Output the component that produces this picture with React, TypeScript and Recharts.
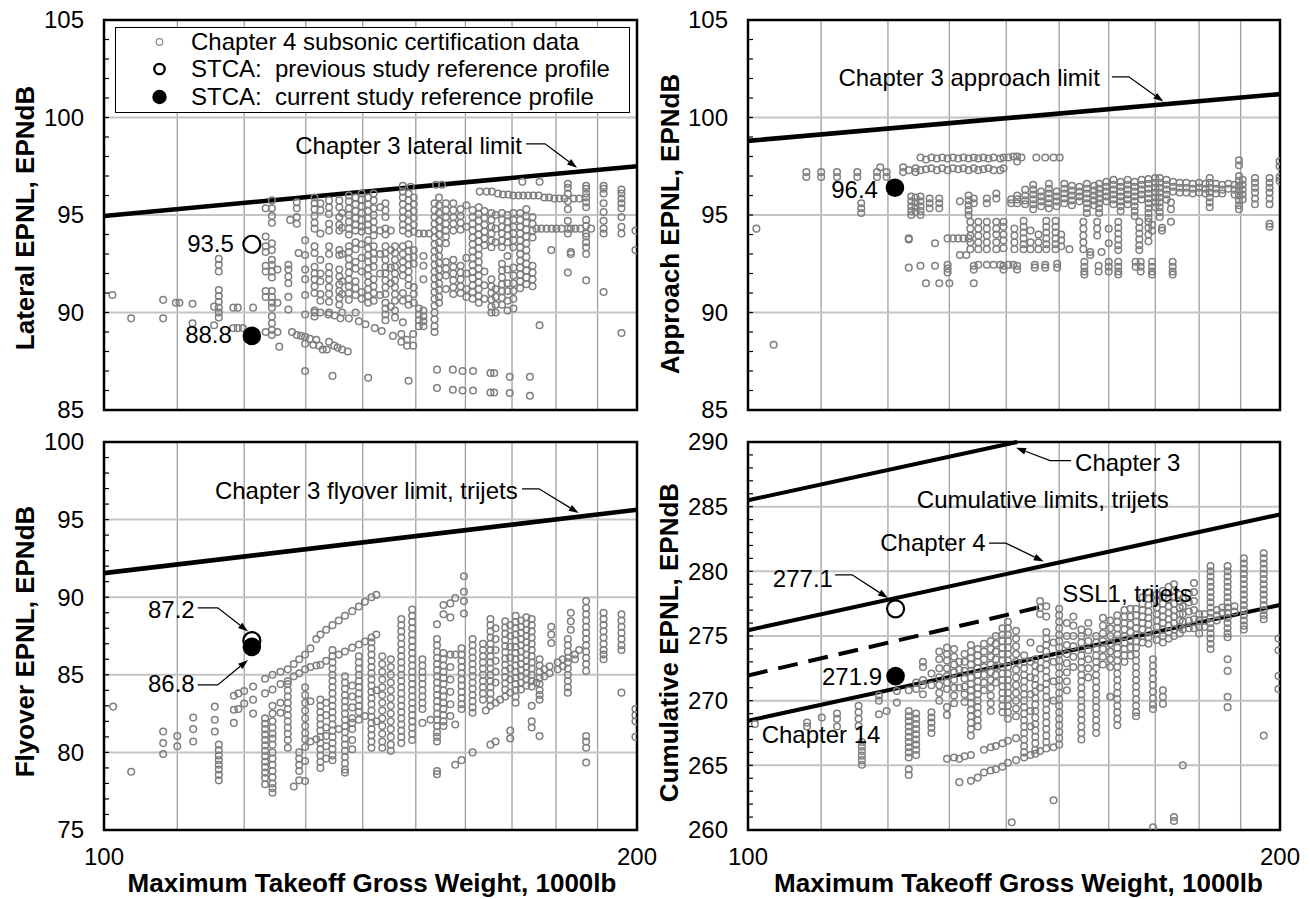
import React from 'react';
import { ScatterChart, Scatter, XAxis, YAxis, CartesianGrid, ReferenceLine, ReferenceArea, Legend } from 'recharts';

type Col = [number, number[]];
type Pt = { x: number; y: number };
type Note = { x: number; y: number; text: string };
type Lay = { tx: number; ty: number; anchor: 'start' | 'end'; leader?: [number, number, number, number] };

const FONT = '"Liberation Sans", Arial, Helvetica, sans-serif';

// ---------- axes ----------
const xTicks = [100, 110, 120, 130, 140, 150, 160, 170, 180, 190, 200];
const xLabeled = [100, 200];
const latMajor = [85, 90, 95, 100, 105];
const latMinor = [85, 86, 87, 88, 89, 90, 91, 92, 93, 94, 95, 96, 97, 98, 99, 100, 101, 102, 103, 104, 105];
const flyMajor = [75, 80, 85, 90, 95, 100];
const flyMinor = [75, 76, 77, 78, 79, 80, 81, 82, 83, 84, 85, 86, 87, 88, 89, 90, 91, 92, 93, 94, 95, 96, 97, 98, 99, 100];
const cumMajor = [260, 265, 270, 275, 280, 285, 290];
const cumMinor = [260, 261, 262, 263, 264, 265, 266, 267, 268, 269, 270, 271, 272, 273, 274, 275, 276, 277, 278, 279, 280, 281, 282, 283, 284, 285, 286, 287, 288, 289, 290];

// ---------- series names ----------
const NAME_DATA = 'Chapter 4 subsonic certification data';
const NAME_PREV = 'STCA:  previous study reference profile';
const NAME_CURR = 'STCA:  current study reference profile';
const legendOrder = [NAME_DATA, NAME_PREV, NAME_CURR];

// ---------- limits ----------
const latLimit: Pt[] = [{ x: 100, y: 94.95 }, { x: 200, y: 97.5 }];
const appLimit: Pt[] = [{ x: 100, y: 98.8 }, { x: 200, y: 101.2 }];
const flyLimit: Pt[] = [{ x: 100, y: 91.55 }, { x: 200, y: 95.63 }];
const cumCh3: Pt[] = [{ x: 100, y: 285.5 }, { x: 142, y: 290 }];
const cumCh4: Pt[] = [{ x: 100, y: 275.45 }, { x: 200, y: 284.4 }];
const cumCh14: Pt[] = [{ x: 100, y: 268.45 }, { x: 200, y: 277.4 }];
const cumSsl1: Pt[] = [{ x: 100, y: 271.95 }, { x: 147, y: 277.3 }];

// ---------- STCA reference profiles ----------
const latPrev: Pt[] = [{ x: 121.2, y: 93.5 }];
const latCurr: Pt[] = [{ x: 121.2, y: 88.8 }];
const appCurr: Pt[] = [{ x: 121.1, y: 96.4 }];
const flyPrev: Pt[] = [{ x: 121.2, y: 87.2 }];
const flyCurr: Pt[] = [{ x: 121.2, y: 86.8 }];
const cumPrev: Pt[] = [{ x: 121.2, y: 277.1 }];
const cumCurr: Pt[] = [{ x: 121.2, y: 271.9 }];

// ---------- certification data (x: MTOW 1000lb, ys: EPNL) ----------
const latCols: Col[] = [
  [101.1, [90.9]], [103.6, [89.7]], [108.0, [90.65, 89.7]], [109.8, [90.5]], [110.3, [90.5]],
  [112.2, [90.45, 89.45]], [115.4, [90.3, 89.35]],
  [116.1, [92.75, 92.45, 92.1, 91.15, 90.85, 90.55, 90.25, 90.0, 89.75]],
  [118.3, [90.25, 89.2]], [119.0, [90.25, 89.2]], [119.8, [89.2]], [121.4, [90.25]],
  [123.4, [95.35, 93.9, 93.4, 93.1, 92.4, 92.1, 91.1, 90.8, 89.0]],
  [124.4, [95.75, 95.35, 94.95, 94.6, 93.55, 93.2, 92.7, 92.45, 92.1, 91.8, 91.1, 90.8, 90.5, 90.25, 89.8, 89.45, 89.1, 88.85]],
  [125.3, [92.2, 90.5, 89.0]], [125.6, [88.25]],
  [127.1, [92.45, 92.2, 91.85, 91.5, 90.8, 90.15]], [127.4, [94.75]], [127.7, [89.0]],
  [128.5, [95.65, 95.35, 94.9, 94.55, 88.85]], [128.8, [93.05]], [129.2, [88.8]],
  [129.9, [93.7, 92.95, 92.2, 91.7, 90.9, 89.9, 88.75, 88.4, 87.0]],
  [130.7, [88.65]], [131.3, [88.35]],
  [131.5, [95.9, 95.6, 95.3, 94.95, 94.6, 94.3, 93.4, 93.05, 92.35, 92.0, 91.7, 91.35, 91.0, 90.1, 89.8, 90.0]],
  [131.8, [88.6]], [132.3, [88.3]], [132.9, [88.1]], [133.6, [88.1]],
  [132.5, [95.6, 95.25, 94.05, 92.7, 92.0, 91.6, 90.95, 90.6, 90.0]],
  [133.9, [89.9]], [134.0, [95.75, 95.4, 95.05, 94.55, 94.2, 93.4, 93.0, 92.35, 92.0, 91.7, 91.3, 90.95, 90.55, 90.0, 88.5]],
  [134.6, [86.75]], [134.9, [88.3]], [135.0, [89.85]], [135.5, [88.2]],
  [135.8, [95.75, 95.4, 94.9, 94.5, 94.2, 93.2, 92.95, 92.2, 91.85, 91.45, 91.1, 90.75, 90.4]],
  [136.0, [89.7]], [136.3, [95.1, 94.35, 93.0, 91.6, 90.95, 90.0, 88.1]], [137.3, [88.0]],
  [137.5, [96.0, 95.7, 95.35, 95.0, 94.65, 94.3, 94.0, 93.4, 93.1, 92.75, 92.4, 92.05, 91.7, 91.35, 91.0, 90.65, 89.7]],
  [138.7, [95.9, 95.55, 95.2, 94.85, 94.5, 94.2, 93.6, 93.25, 92.6, 92.25, 91.6, 91.25, 90.9, 90.0]],
  [139.3, [89.55]],
  [139.8, [96.1, 95.8, 95.45, 95.1, 94.75, 94.4, 94.15, 93.5, 92.8, 92.1, 91.05, 90.7]],
  [140.5, [89.4]],
  [141.0, [95.9, 95.55, 95.2, 94.85, 94.5, 94.2, 93.7, 93.3, 92.95, 92.6, 92.25, 91.9, 91.55, 91.2, 90.85, 90.5, 86.65]],
  [142.0, [96.1, 95.75, 95.35, 95.0, 94.65, 94.3, 93.95, 93.4, 93.05, 92.7, 92.35, 91.7, 91.35, 91.0, 90.6]],
  [142.2, [89.2]], [143.2, [95.4, 94.2, 93.0, 92.0, 90.9]], [143.5, [89.05]],
  [144.2, [95.6, 95.25, 94.9, 94.3, 94.0, 93.4, 93.05, 92.7, 92.35, 92.0, 91.65, 91.3, 90.95, 90.5, 90.2, 89.9, 89.6]],
  [145.2, [94.2, 93.2, 92.3, 91.5, 90.3]], [145.6, [88.8]],
  [146.0, [93.4, 93.05, 92.7, 92.35, 92.0, 91.65, 91.3, 90.95, 90.6, 90.1, 89.75]],
  [147.2, [88.5, 88.9]],
  [147.5, [96.5, 96.2, 95.9, 95.55, 95.2, 94.85, 94.5, 94.2, 93.4, 93.0, 92.6, 92.25, 91.9, 91.0, 90.6, 89.5]],
  [148.3, [88.6, 88.3]], [148.6, [86.5]],
  [148.6, [96.1, 95.75, 95.4, 95.05, 94.7, 94.35, 94.05, 93.5, 93.15, 92.8, 92.45, 92.1, 91.75, 91.4, 90.7, 90.4]],
  [149.0, [96.45]], [149.5, [88.3, 88.9]],
  [149.6, [95.9, 95.55, 95.2, 94.85, 94.5, 94.15, 93.2, 92.85, 92.5, 91.3, 90.95, 90.5]],
  [150.6, [94.05, 90.2, 89.9, 89.6, 89.3]], [151.6, [94.05]], [152.6, [94.05]],
  [151.5, [92.9, 92.4, 91.7, 90.1, 89.8, 89.55, 89.3]],
  [153.7, [95.6, 95.25, 94.9, 94.55, 94.2, 93.85, 93.5, 93.15, 92.8, 92.45, 92.1, 91.75, 91.4, 91.05, 90.7, 90.35, 90.0, 89.65, 89.3, 89.0]],
  [154.0, [96.55]], [154.2, [87.07, 86.13]], [155.2, [96.55]],
  [154.6, [95.9, 95.5, 95.1, 94.7, 94.35, 94.0, 93.6, 93.25, 92.9, 92.55, 92.2, 91.85, 91.5, 91.15, 90.8, 90.5]],
  [156.0, [95.6, 95.25, 94.9, 94.55, 94.2, 93.9, 93.55, 92.6, 92.25, 91.9, 91.2]],
  [157.4, [87.07, 86.04]],
  [157.5, [95.6, 95.25, 94.9, 94.55, 94.2, 92.7, 92.35, 92.0, 91.65, 91.3, 90.95]],
  [159.0, [95.3, 94.95, 94.6, 94.25, 92.4, 92.05, 91.7, 91.35, 91.0]],
  [159.4, [87.0, 86.0]],
  [160.2, [95.5, 94.4, 92.8, 92.0, 91.2, 90.8]],
  [161.5, [95.25, 94.9, 94.55, 94.2, 93.85, 93.5, 93.15, 92.8, 92.45, 92.1, 91.75, 91.4, 91.05, 90.7]],
  [161.6, [87.0, 86.0]],
  [162.8, [95.4, 95.05, 94.7, 94.35, 94.0, 93.65, 93.3, 92.95, 92.6, 92.25, 91.9, 91.55, 91.2, 90.85, 90.5]],
  [163.0, [96.2]],
  [164.0, [95.2, 94.85, 94.5, 94.15, 93.8, 93.45, 92.1, 91.4, 90.7]],
  [164.5, [96.2]], [165.3, [86.9, 85.9]], [165.6, [96.2]],
  [165.5, [95.1, 94.75, 94.4, 94.05, 93.7, 93.35, 91.7, 91.35, 91.0, 90.65, 90.3, 90.0]],
  [166.1, [86.9, 85.9]],
  [166.4, [95.0, 94.3, 93.6, 91.2, 90.8, 90.4, 90.0]],
  [166.9, [96.1]], [168.0, [96.05]],
  [167.8, [95.1, 94.75, 94.4, 94.05, 93.7, 93.35, 92.5, 92.15, 91.8, 91.45, 91.1, 90.75, 90.4]],
  [169.0, [95.0, 94.65, 94.3, 93.95, 93.6, 92.9, 92.2, 91.5, 91.1, 90.6, 90.1]],
  [169.2, [96.05]], [169.5, [86.7, 85.87]],
  [170.3, [96.0, 95.1, 94.75, 94.4, 94.05, 93.7, 93.35, 92.3, 91.9, 91.5, 91.1, 90.7, 90.2]],
  [171.4, [96.0]],
  [171.8, [95.1, 94.75, 94.4, 94.05, 93.7, 93.35, 93.0, 92.65, 92.3, 91.95, 91.6, 91.25]],
  [172.3, [96.7]], [172.5, [96.0]],
  [173.2, [95.3, 94.95, 94.6, 94.25, 93.9, 93.55, 93.2, 92.85, 92.5, 92.15, 91.8, 91.45]],
  [173.6, [96.0]], [174.0, [86.7, 85.73]], [174.8, [96.0]],
  [174.6, [94.9, 94.55, 94.2, 93.85, 92.4, 92.05, 91.7, 91.35]],
  [175.5, [94.3]], [176.0, [96.0]], [176.2, [96.7, 89.35]], [176.6, [94.3]],
  [177.3, [95.9]], [177.8, [94.3]], [178.4, [95.9]], [178.9, [93.2]], [179.0, [94.3]],
  [179.6, [95.85]], [180.1, [94.3]], [180.8, [95.85]], [181.3, [94.3]], [182.0, [95.85]],
  [182.8, [96.6, 96.4, 96.1, 95.7, 95.3, 94.7, 94.3, 94.05, 92.05]],
  [183.5, [93.1, 93.0, 94.3]], [184.2, [95.85]], [184.6, [94.3]], [185.5, [95.85]], [185.8, [94.3]],
  [187.2, [96.5, 96.35, 96.1, 95.9, 95.65, 95.4, 94.75, 94.45, 94.05, 93.9, 93.6, 93.35, 93.0, 91.65]],
  [188.4, [94.3]],
  [191.5, [96.5, 96.35, 96.1, 95.6, 95.15, 94.7, 94.3, 94.05, 91.05]],
  [196.0, [96.3, 96.1, 95.85, 95.6, 95.35, 94.9, 94.4, 94.05, 88.95]],
  [199.6, [94.2, 93.2]],
];

const appCols: Col[] = [
  [101.1, [94.3]], [103.4, [88.35]],
  [107.9, [97.2, 96.95]], [110.0, [97.2, 96.95]], [112.3, [97.2, 96.95]], [115.3, [97.2, 96.95]],
  [115.9, [95.6, 95.35, 95.1]], [118.3, [97.2, 96.95]], [118.8, [97.45]], [119.8, [97.2, 96.95]],
  [122.4, [97.45, 97.2]],
  [123.3, [97.3, 93.8, 93.75, 92.3]],
  [123.7, [95.95, 95.7, 95.45, 95.2, 95.0]],
  [124.4, [97.4, 97.2, 95.9, 95.65, 95.4, 95.15]],
  [125.2, [97.95, 97.3, 95.95, 95.7, 95.45, 95.2, 95.0, 92.4]],
  [126.1, [97.85, 97.35, 91.5]], [126.7, [95.85, 95.6, 95.35]], [127.0, [97.95, 97.4]],
  [127.6, [93.55, 92.4]], [127.9, [97.9, 97.3]], [128.3, [95.85, 95.6, 95.35, 91.5]],
  [128.8, [97.95, 97.4]], [129.7, [97.9, 97.3, 93.8, 92.45, 92.25, 92.05]], [130.0, [91.5]],
  [130.6, [97.95, 97.4, 93.8]], [131.5, [97.9, 97.35, 93.8]], [131.8, [95.7, 92.95]],
  [132.4, [97.95, 97.4, 93.8]], [132.9, [92.95]],
  [133.3, [97.9, 97.3, 96.0, 95.75, 95.5, 95.25, 95.0, 93.8]],
  [133.6, [94.65, 94.3, 93.95, 93.6, 93.25]],
  [134.2, [97.95, 97.4, 95.85, 95.6, 92.4, 92.2, 91.5]],
  [135.0, [97.9, 97.3, 94.65, 94.3, 93.95, 93.6, 93.25, 92.45]],
  [135.9, [97.95, 97.35]],
  [136.5, [95.85, 95.6, 94.65, 94.3, 93.95, 93.6, 93.25, 92.45]],
  [136.8, [97.9, 97.4]], [137.7, [97.95, 97.3, 92.45]],
  [138.2, [96.1, 95.85, 94.65, 94.3, 94.0, 93.6, 93.25]],
  [138.9, [97.9, 97.3, 92.45]],
  [139.5, [97.95, 97.4, 94.65, 94.4, 94.0, 93.7, 93.3, 92.4, 92.2]],
  [140.4, [97.95, 92.45]], [140.9, [95.8, 95.6]], [141.3, [98.0, 92.45]],
  [141.5, [94.3, 93.95, 93.6, 93.25]],
  [142.0, [98.0, 97.75, 96.0, 95.8, 95.6, 92.4, 92.2]], [142.8, [97.95]],
  [143.2, [94.7, 94.4, 94.1, 93.8, 93.5, 93.25]], [143.5, [96.3, 96.0, 95.75, 95.55]],
  [144.5, [94.2, 93.6, 93.25]], [145.0, [96.55, 96.3, 96.05, 95.8, 95.55, 95.3]],
  [145.6, [97.95]], [145.3, [92.45, 92.3]], [146.0, [94.0, 93.6, 93.25]],
  [146.5, [96.2, 95.95, 95.7, 95.45]], [147.3, [97.95, 92.45, 92.3]],
  [147.5, [94.7, 94.4, 94.1, 93.8, 93.5, 93.25]], [148.0, [96.6, 96.35, 96.1, 95.85, 95.6, 95.35]],
  [148.9, [97.95]], [149.3, [94.7, 94.4, 94.1, 93.8, 93.5, 93.25]],
  [149.5, [96.2, 95.95, 95.7, 95.45]], [149.6, [92.5, 92.3]], [150.1, [97.95]],
  [150.4, [94.0, 93.7, 93.4]], [151.0, [96.6, 96.35, 96.1, 95.85, 95.6]], [152.0, [93.25]],
  [152.5, [96.5, 96.25, 96.0, 95.75, 95.5]], [154.0, [96.45, 96.2, 95.95, 95.7]],
  [154.8, [94.65, 94.3, 93.95, 93.6, 93.25]], [155.0, [92.6, 92.35, 92.1, 91.95]],
  [155.5, [96.6, 96.35, 96.1, 95.85, 95.6, 95.35, 95.1]], [156.2, [93.1, 92.95]],
  [157.0, [96.5, 96.25, 96.0, 95.75, 95.5]], [157.6, [94.65, 94.3, 93.95]], [157.9, [92.4, 92.1]],
  [158.0, [96.6, 96.35, 96.1, 95.85, 95.6, 95.35, 95.1]], [158.5, [93.1]],
  [159.5, [96.7, 96.45, 96.2, 95.95, 95.7]], [160.0, [94.3, 93.55, 92.6, 92.35, 92.1]],
  [161.0, [96.8, 96.55, 96.3, 96.05, 95.8, 95.55]],
  [162.0, [94.65, 94.35, 94.05, 93.75, 93.45, 93.2, 92.6, 92.35, 92.1, 91.95]],
  [162.5, [96.7, 96.45, 96.2, 95.95, 95.7, 95.45, 95.2]],
  [164.0, [96.8, 96.55, 96.3, 96.05, 95.8, 95.55]],
  [165.5, [96.7, 96.45, 96.2, 95.95, 95.7, 95.45, 95.2, 94.95]], [165.7, [92.6, 92.35]],
  [166.5, [94.65, 94.35, 94.05, 93.75, 93.45, 93.2]], [166.8, [92.6, 92.35, 92.1]],
  [167.0, [96.8, 96.55, 96.3, 96.05, 95.8]],
  [168.5, [96.85, 96.6, 96.35, 96.1, 95.85, 95.6, 95.35, 95.1, 94.85, 94.65, 94.35, 94.0, 93.65]],
  [169.3, [94.5, 94.2, 92.6, 92.35, 92.1, 91.95]],
  [170.0, [96.9, 96.65, 96.4, 96.15, 95.9, 95.65, 95.4]],
  [171.0, [96.9, 96.65, 96.4, 96.15, 95.9, 95.65, 95.4, 95.15, 94.9]], [171.5, [94.35, 94.2]],
  [172.5, [96.8, 96.55, 96.3, 96.05, 95.8]], [173.5, [95.65, 95.3, 94.65]],
  [173.9, [92.6, 92.35, 92.1, 91.95]], [174.0, [96.7, 96.45, 96.2]],
  [175.5, [96.65, 96.4, 96.15]], [177.0, [96.65, 96.4, 96.15]], [178.5, [96.6, 96.35, 96.1]],
  [180.0, [96.65, 96.4, 96.15]], [181.5, [96.6, 96.35, 96.1]],
  [182.5, [96.9, 96.65, 96.4, 96.15, 95.9, 95.65, 95.4]], [184.0, [96.6, 96.35, 96.1]],
  [185.5, [96.55, 96.3, 96.1]], [187.0, [96.6, 96.35]], [188.5, [96.55, 96.3, 96.05]],
  [189.6, [97.8, 97.55, 97.0, 96.75, 96.5, 96.25, 96.0, 95.75, 95.5, 95.3]],
  [190.5, [96.8, 96.55, 96.3, 96.05, 95.8]],
  [193.6, [96.9, 96.65, 96.4, 96.15, 95.85, 95.55]],
  [197.3, [96.9, 96.65, 96.4, 96.15, 95.85, 95.55, 94.55, 94.4]],
  [199.9, [97.75, 97.5, 96.95, 96.75]],
];

const flyCols: Col[] = [
  [101.2, [82.95]], [103.6, [78.75]], [108.0, [81.35, 80.6, 79.9]], [110.0, [81.05, 80.4]],
  [112.3, [82.25, 81.5, 80.7]], [115.5, [82.95, 82.1, 81.35]],
  [116.1, [80.5, 80.15, 79.8, 79.5, 79.2, 78.9, 78.55, 78.2]],
  [118.4, [83.65, 82.75, 81.9]], [119.1, [83.8, 82.8]], [120.0, [83.95, 83.15]], [121.4, [84.25, 83.4, 82.5]],
  [123.3, [84.75, 83.8, 82.2, 81.85, 81.5, 81.15, 80.8, 80.45, 80.1, 79.75, 79.4, 79.05, 78.7, 78.35, 77.95]],
  [124.5, [85.0, 84.05, 83.0, 82.5, 82.0, 81.6, 81.2, 80.9, 80.5, 80.0, 79.6, 79.2, 78.8, 78.4, 78.0, 77.7, 77.4]],
  [125.8, [85.2, 84.4, 83.2, 82.55]],
  [127.0, [85.35, 84.6, 84.4, 84.0, 83.6, 83.2, 82.8, 82.4, 82.0, 81.6, 81.2, 80.8, 80.3]],
  [128.0, [85.7, 84.9, 77.8]],
  [128.9, [86.0, 85.1, 80.0, 79.6, 79.2, 78.8, 78.2]],
  [129.9, [86.3, 85.35, 84.2, 83.7, 83.2, 82.7, 82.2, 81.7, 81.25, 80.85, 80.35, 79.45, 78.15]],
  [130.8, [86.7, 85.5, 83.3, 80.7]], [131.8, [87.3, 85.6, 80.85]],
  [132.5, [87.6, 85.65, 83.4, 83.0, 82.6, 82.2, 81.8, 81.4, 81.0, 80.6, 80.2, 79.8, 79.4, 79.0]],
  [133.5, [87.9, 85.9, 83.2, 82.4, 81.6, 81.05, 80.4, 79.6]],
  [134.6, [88.2, 86.6, 86.2, 85.8, 85.4, 85.0, 84.6, 84.2, 83.8, 83.4, 83.0, 82.6, 82.2, 81.8, 81.4, 81.0, 80.6, 80.2, 79.8, 79.5]],
  [135.7, [88.5, 86.3, 81.5]],
  [136.8, [88.8, 86.5, 84.9, 84.5, 84.1, 83.7, 83.3, 82.9, 82.5, 82.1, 81.7, 81.3, 80.9, 80.5, 80.1, 79.7, 79.3, 78.9, 78.7]],
  [138.1, [89.1, 86.75, 84.3, 83.6, 82.9, 82.2, 81.9, 81.5, 80.8, 80.2]],
  [139.3, [89.4, 86.95, 86.2, 85.8, 85.4, 85.0, 84.6, 84.2, 83.8, 83.4, 83.0, 82.6, 82.1]],
  [140.4, [89.7, 87.15, 82.35]],
  [141.6, [90.0, 87.4, 87.1, 86.7, 86.3, 85.9, 85.5, 85.1, 84.7, 84.3, 83.9, 83.5, 83.1, 82.7, 82.3, 81.9, 81.5, 81.1, 80.7, 80.3]],
  [142.5, [90.15, 87.6, 84.0, 82.0]],
  [143.6, [86.2, 85.7, 85.2, 84.7, 84.2, 83.7, 83.2, 82.7, 82.2, 81.7, 81.2, 80.7, 80.3]],
  [145.2, [86.0, 85.5, 85.0, 84.5, 84.0, 83.5, 83.0, 82.5, 82.0, 81.5, 81.0, 80.5, 80.1]],
  [147.2, [88.6, 88.2, 87.8, 87.4, 87.0, 86.6, 86.2, 85.8, 85.4, 85.0, 84.6, 84.2, 83.8, 83.4, 83.0, 82.6, 82.2, 81.8, 81.4, 81.0, 80.6]],
  [149.3, [89.2, 88.8, 88.4, 88.0, 87.6, 87.2, 86.8, 86.4, 86.0, 85.6, 85.2, 84.8, 84.4, 84.0, 83.6, 83.2, 82.8, 82.4, 82.0, 81.6, 81.2, 80.8]],
  [151.3, [86.0, 85.6, 85.2, 84.8, 84.4, 84.0, 83.6, 83.2, 82.8, 81.9]],
  [152.9, [82.1]],
  [154.2, [88.25, 87.3, 86.9, 86.5, 86.1, 85.7, 85.3, 84.9, 84.5, 84.1, 83.7, 83.3, 82.9, 82.5, 82.1, 81.7, 81.3, 81.0, 80.7, 78.8, 78.6]],
  [155.5, [89.5, 88.9, 86.4, 86.0, 85.6, 85.2, 84.8, 84.4, 84.0, 83.6, 83.2, 82.8, 82.4, 82.0, 81.7]],
  [156.9, [89.6, 88.7, 86.3, 85.5, 84.7, 83.9, 83.1, 82.35]],
  [157.9, [89.95, 86.3, 81.8, 79.2]],
  [159.2, [86.7, 86.3, 85.9, 85.5, 85.1, 84.7, 84.3, 83.9, 83.5, 83.1, 82.8, 79.5]],
  [159.7, [91.35, 90.35, 89.75, 88.95]],
  [161.5, [87.3, 86.9, 86.5, 86.1, 85.7, 85.3, 84.9, 84.5, 84.1, 83.7, 83.3, 82.9, 82.55, 80.0]],
  [163.7, [87.0, 86.6, 86.2, 85.8, 85.4, 85.0, 84.6, 84.2, 83.8, 83.4]],
  [164.3, [82.7]],
  [165.3, [88.6, 88.2, 87.8, 87.4, 87.0, 86.6, 86.2, 85.8, 85.4, 85.0, 84.6, 84.2, 83.8, 83.4, 83.0, 80.5]],
  [166.4, [88.0, 87.3, 86.6, 85.9, 85.2, 84.5, 83.2, 80.7]],
  [167.4, [83.4]],
  [168.5, [88.45, 88.05, 87.65, 87.25, 86.85, 86.45, 86.05, 85.65, 85.25, 84.85, 84.45, 84.05, 83.6]],
  [169.6, [88.2, 87.5, 86.8, 86.1, 85.4, 84.7, 83.85, 81.4, 80.9]],
  [170.8, [88.8, 88.4, 88.0, 87.6, 87.2, 86.8, 86.4, 86.0, 85.6, 85.2, 84.8, 84.4, 84.0, 83.6, 83.2]],
  [172.0, [88.5, 88.1, 87.7, 87.3, 86.9, 86.5, 86.1, 85.7, 85.3, 84.9, 84.5, 84.05]],
  [173.2, [88.7, 88.3, 87.9, 87.5, 87.1, 86.7, 86.3, 85.9, 85.5, 85.1, 84.7, 84.3]],
  [174.4, [88.6, 88.2, 87.8, 87.4, 87.0, 86.6, 86.2, 85.8, 85.4, 85.0, 84.6, 84.25, 83.0, 82.0, 81.6]],
  [175.5, [84.5]],
  [176.2, [86.0, 85.6, 85.2, 84.8, 84.4, 84.0, 83.7, 83.4, 81.05]],
  [177.3, [85.35, 84.9]], [178.5, [85.55, 85.1]], [178.9, [88.1, 87.6, 87.05]],
  [180.4, [85.35, 85.8]], [181.6, [85.55, 86.0]],
  [182.8, [87.3, 86.9, 86.5, 86.1, 85.8, 85.4, 85.0, 84.6, 84.2, 83.85]],
  [183.5, [89.0, 88.45, 87.9]], [184.5, [86.0, 86.3]], [185.5, [86.6]],
  [187.2, [89.75, 89.3, 88.9, 88.5, 88.1, 87.7, 87.3, 86.9, 86.5, 86.1, 85.7, 85.25, 81.05, 80.7, 80.3, 79.35]],
  [191.5, [89.0, 88.6, 88.2, 87.8, 87.4, 87.0, 86.6, 86.3, 86.0]],
  [196.0, [88.9, 88.5, 88.1, 87.7, 87.3, 86.9, 86.6, 83.85]],
  [199.6, [82.8, 82.4, 82.0, 81.0]],
];

const cumCols: Col[] = [
  [100.9, [268.2]], [108.0, [268.3, 268.0]], [110.1, [268.7]], [112.3, [269.0, 268.6, 268.0]],
  [115.5, [269.6, 269.1, 268.6, 268.05]], [116.0, [266.8, 266.45, 266.1, 265.75, 265.4, 265.05]],
  [118.6, [270.4, 270.0, 268.95]], [119.8, [269.2]], [121.4, [270.75, 269.85]],
  [123.3, [270.8, 269.2, 268.8, 268.4, 268.0, 267.6, 267.2, 266.8, 266.4, 266.0, 265.6, 264.7, 264.25]],
  [124.5, [271.4, 270.9, 269.0, 268.6, 268.2, 267.8, 267.4, 267.0, 266.6, 266.2, 265.8]],
  [125.6, [273.0, 272.6, 271.6, 271.2, 270.5]],
  [127.0, [272.1, 271.2, 269.1, 268.7, 268.3, 267.9, 267.5]],
  [128.3, [273.8, 273.2, 272.5, 271.8, 271.2, 270.6, 270.0]],
  [129.6, [274.1, 273.6, 273.1, 272.5, 271.9, 271.4, 270.9, 269.5, 268.9, 265.5]],
  [130.8, [274.0, 273.4, 272.8, 272.2, 271.6, 271.0, 270.4, 269.8, 265.6]],
  [131.7, [273.0, 272.4, 271.0, 265.5, 263.7]],
  [132.6, [273.6, 273.0, 272.3, 271.7, 271.1, 270.5, 269.9, 265.7]],
  [133.7, [274.3, 273.8, 273.3, 272.8, 272.3, 271.8, 271.3, 270.8, 270.3, 269.8, 269.3, 268.8, 268.3, 267.8, 267.3, 265.8, 263.8]],
  [134.9, [274.0, 273.5, 273.0, 272.5, 272.0, 271.5, 271.0, 270.5, 270.0, 269.5, 269.0, 268.5, 268.0, 264.05]],
  [136.0, [274.4, 273.8, 273.2, 272.6, 272.0, 271.4, 270.8, 266.2, 264.45]],
  [137.2, [274.6, 274.0, 273.4, 272.8, 272.2, 271.6, 271.0, 270.4, 269.8, 269.2, 266.4, 264.6]],
  [138.1, [275.0, 274.4, 273.8, 273.2, 272.6, 272.0, 271.4, 266.5, 264.7]],
  [139.3, [275.6, 275.1, 274.6, 274.1, 273.6, 273.1, 272.6, 272.1, 271.6, 271.1, 270.6, 270.1, 269.6, 269.1, 266.7, 264.9]],
  [140.3, [276.1, 275.6, 275.1, 274.6, 274.1, 273.6, 273.1, 272.6, 272.1, 271.6, 271.1, 270.6, 270.1, 269.6, 269.1, 268.6, 266.9, 265.2]],
  [141.0, [260.6]],
  [141.8, [275.4, 274.8, 274.2, 273.6, 273.0, 272.4, 271.8, 271.2, 270.6, 270.0, 269.4, 268.8, 267.1, 265.4]],
  [143.3, [273.5, 273.0, 272.5, 272.0, 271.5, 271.0, 270.5, 270.0, 269.5, 269.0, 268.5, 268.0, 267.5, 267.0, 266.5, 266.0, 265.6]],
  [144.5, [274.5, 273.0, 271.8, 270.5, 269.2, 268.0, 265.8]],
  [145.4, [273.2, 272.7, 272.2, 271.7, 271.2, 270.7, 270.2, 269.7, 269.2, 268.7, 268.2, 267.7, 267.2, 266.7, 266.2, 265.9]],
  [146.3, [277.7, 277.2, 276.7, 274.0, 272.5, 271.0, 266.1]],
  [147.5, [277.3, 276.5, 275.3, 274.8, 274.3, 273.8, 273.3, 272.8, 272.3, 271.8, 271.3, 270.8, 270.3, 269.8, 269.3, 268.8, 268.3, 267.8, 267.3, 266.8, 266.3]],
  [148.9, [262.3, 274.5, 273.0, 271.5, 270.0, 266.4]],
  [150.0, [277.1, 276.6, 276.1, 275.6, 275.1, 274.6, 274.1, 273.6, 273.1, 272.6, 272.1, 271.6, 271.1, 270.6, 270.1, 269.6, 269.1, 268.6, 268.1, 267.6, 267.1, 266.6]],
  [151.5, [276.0, 275.0, 274.3, 273.6, 272.9, 272.2, 271.5, 270.8]],
  [152.8, [276.5, 275.8, 275.0, 274.2, 273.4, 272.6]],
  [154.4, [275.5, 275.0, 274.5, 274.0, 273.5, 273.0, 272.5, 272.0, 271.5, 271.0, 270.5, 270.0, 269.5, 269.0, 268.5, 268.0, 267.5, 267.0]],
  [155.8, [276.0, 275.3, 274.6, 273.9, 273.2, 272.5, 271.8]],
  [157.4, [275.0, 274.5, 274.0, 273.5, 273.0, 272.5, 272.0, 271.5, 271.0, 270.5, 270.0, 269.5, 269.0, 268.5, 268.0, 267.5]],
  [158.8, [276.4, 275.8, 275.2, 274.6, 274.0, 273.4, 272.8]],
  [160.3, [276.2, 275.6, 275.0, 274.4, 273.8, 273.2, 272.6, 270.3]],
  [161.8, [276.6, 276.1, 275.6, 275.1, 274.6, 274.1, 273.6, 273.1, 272.6, 272.1, 271.6, 271.1, 270.6, 270.1, 269.6, 269.1, 268.6, 268.1]],
  [163.3, [277.0, 276.5, 276.0, 275.5, 275.0, 274.5, 274.0, 273.5, 273.0]],
  [164.6, [277.1, 276.5, 275.9, 275.3, 274.7, 274.1, 273.5]],
  [165.8, [277.1, 276.6, 276.1, 275.6, 275.1, 274.6, 274.1, 273.6, 273.1, 272.6, 272.1, 271.6, 271.1, 270.6, 270.1, 269.6, 269.1, 268.8]],
  [167.2, [278.0, 277.5, 277.0, 276.5, 276.0, 275.5, 275.0, 274.5]],
  [168.5, [278.4, 277.9, 277.4, 276.9, 276.4, 275.9, 275.4, 274.9, 274.4]],
  [169.5, [273.2, 272.7, 272.2, 271.7, 271.2, 270.7, 270.2, 269.7, 269.35, 260.2]],
  [170.3, [278.2, 277.7, 277.2, 276.7, 276.2, 275.7, 275.2, 274.7]],
  [171.7, [278.5, 278.0, 277.5, 277.0, 276.5, 276.0, 275.5, 275.0, 274.5, 270.8, 270.3, 269.75]],
  [173.0, [278.8, 278.3, 277.8, 277.3, 276.8, 276.3, 275.8, 275.3, 274.8]],
  [174.2, [279.0, 278.5, 278.0, 277.5, 277.0, 276.5, 276.0, 275.5, 275.0, 261.0, 260.7]],
  [175.5, [278.2, 277.7, 277.2, 276.7, 276.2, 275.7, 275.2]],
  [176.2, [277.9, 277.3, 276.7, 276.1, 275.5, 265.0]],
  [177.6, [278.3, 277.6, 276.9, 276.2, 275.6]],
  [178.8, [279.1, 278.4, 277.7, 277.0, 276.3, 275.6]],
  [180.0, [276.7, 276.2, 275.7, 275.2]], [181.3, [276.7, 276.2, 275.7]],
  [182.7, [280.4, 280.0, 279.6, 279.2, 278.8, 278.4, 278.0, 277.6, 277.2, 276.8, 276.4, 276.0, 275.6, 275.2, 274.8, 274.4, 274.0]],
  [184.2, [277.0, 276.6, 276.2]], [185.5, [277.2, 276.8]],
  [186.8, [280.4, 280.0, 279.6, 279.2, 278.8, 278.4, 278.0, 277.6, 277.2, 276.8, 276.4, 276.0, 275.6, 275.2, 274.9, 273.2, 272.3, 270.3, 269.5]],
  [188.5, [277.3, 276.9]],
  [190.8, [281.0, 280.6, 280.2, 279.8, 279.4, 279.0, 278.6, 278.2, 277.8, 277.4, 277.0, 276.6, 276.2, 275.8, 275.5]],
  [195.8, [281.4, 281.0, 280.6, 280.2, 279.8, 279.4, 279.0, 278.6, 278.2, 277.8, 277.4, 277.0, 276.6, 276.3, 267.3]],
  [199.6, [274.8, 273.9, 271.9, 270.9]],
];

// ---------- annotations (anchor points in data units) ----------
const latNotes: Note[] = [
  { x: 185.0, y: 97.42, text: 'Chapter 3 lateral limit' },
  { x: 121.2, y: 93.5, text: '93.5' },
  { x: 121.2, y: 88.8, text: '88.8' },
];
const appNotes: Note[] = [
  { x: 171.8, y: 100.82, text: 'Chapter 3 approach limit' },
  { x: 121.1, y: 96.4, text: '96.4' },
];
const flyNotes: Note[] = [
  { x: 185.4, y: 95.42, text: 'Chapter 3 flyover limit, trijets' },
  { x: 120.6, y: 87.79, text: '87.2' },
  { x: 120.6, y: 85.96, text: '86.8' },
];
const cumNotes: Note[] = [
  { x: 141.8, y: 289.56, text: 'Chapter 3' },
  { x: 147.0, y: 280.76, text: 'Chapter 4' },
  { x: 120.0, y: 277.93, text: '277.1' },
  { x: 121.2, y: 271.9, text: '271.9' },
  { x: 124.6, y: 285.53, text: 'Cumulative limits, trijets' },
  { x: 150.6, y: 278.26, text: 'SSL1, trijets' },
  { x: 101.8, y: 267.35, text: 'Chapter 14' },
];

// ---------- layout of annotation texts/leaders (pixels, relative to anchor) ----------
const noteLayout: Record<string, Lay> = {
  'Chapter 3 lateral limit': { tx: -55, ty: -22, anchor: 'end', leader: [-51, -24, -32, -24] },
  '93.5': { tx: -18, ty: -1, anchor: 'end' },
  '88.8': { tx: -20, ty: -1.4, anchor: 'end' },
  'Chapter 3 approach limit': { tx: -63.5, ty: -23.5, anchor: 'end', leader: [-51.5, -24.7, -34.5, -24.7] },
  '96.4': { tx: -17, ty: 2, anchor: 'end' },
  'Chapter 3 flyover limit, trijets': { tx: -61, ty: -22.3, anchor: 'end', leader: [-56.7, -24.3, -39.7, -24.3] },
  '87.2': { tx: -53.3, ty: -21.7, anchor: 'end', leader: [-50.3, -23.7, -30.3, -23.7] },
  '86.8': { tx: -53.3, ty: 24, anchor: 'end', leader: [-50.3, 25, -30.3, 25] },
  'Chapter 3': { tx: 59, ty: 15, anchor: 'start', leader: [55, 13, 34, 13] },
  'Chapter 4': { tx: -58, ty: -18.7, anchor: 'end', leader: [-54.7, -18.4, -37.9, -18.4] },
  '277.1': { tx: -55, ty: -19.3, anchor: 'end', leader: [-52.8, -23.3, -35.8, -23.3] },
  '271.9': { tx: -13.5, ty: 1, anchor: 'end' },
  'Cumulative limits, trijets': { tx: 0, ty: 0, anchor: 'start' },
  'SSL1, trijets': { tx: 0, ty: 0, anchor: 'start' },
  'Chapter 14': { tx: 0, ty: 0, anchor: 'start' },
};

const toPts = (cols: Col[]): Pt[] => cols.flatMap(([x, ys]) => ys.map((y) => ({ x, y })));

// ---------- shapes ----------
const Dot = (p: any) => <circle cx={p.cx} cy={p.cy} r={3.3} fill="none" stroke="#7f7f7f" strokeWidth={1.5} />;
const OpenMark = (p: any) => <circle cx={p.cx} cy={p.cy} r={8.5} fill="#fff" stroke="#000" strokeWidth={2.2} />;
const FilledMark = (p: any) => <circle cx={p.cx} cy={p.cy} r={9.3} fill="#000" />;

const NoteShape = (p: any) => {
  const L = noteLayout[p.payload?.text];
  if (!L) return <g />;
  const cx = p.cx;
  const cy = p.cy;
  let leader: React.ReactNode = null;
  if (L.leader) {
    const [sx, sy, ex, ey] = L.leader;
    const len = Math.hypot(ex, ey);
    const ux = -ex / len;
    const uy = -ey / len;
    const AL = 10;
    const AW = 3.4;
    const bx = cx - ux * AL;
    const by = cy - uy * AL;
    const nx = -uy;
    const ny = ux;
    leader = (
      <g>
        <polyline points={`${cx + sx},${cy + sy} ${cx + ex},${cy + ey} ${bx},${by}`} fill="none" stroke="#000" strokeWidth={1.3} />
        <polygon points={`${cx},${cy} ${bx + nx * AW},${by + ny * AW} ${bx - nx * AW},${by - ny * AW}`} fill="#000" />
      </g>
    );
  }
  return (
    <g>
      {leader}
      <text x={cx + L.tx} y={cy + L.ty} dy="0.35em" textAnchor={L.anchor} fontSize={24} fill="#000" style={{ whiteSpace: 'pre' }}>
        {p.payload.text}
      </text>
    </g>
  );
};

const LegendBox = (props: any) => {
  const items = (props.payload || [])
    .filter((e: any) => legendOrder.includes(e.value))
    .sort((a: any, b: any) => legendOrder.indexOf(a.value) - legendOrder.indexOf(b.value));
  return (
    <div style={{ width: 515, height: 86, boxSizing: 'border-box', border: '1.5px solid #000', background: '#fff', fontFamily: FONT, fontSize: 24, color: '#000' }}>
      {items.map((e: any) => {
        const k = legendOrder.indexOf(e.value);
        return (
          <div key={e.value} style={{ display: 'flex', alignItems: 'center', height: 27.6, whiteSpace: 'pre' }}>
            <svg width={75} height={20} style={{ flex: 'none' }}>
              {k === 0 && <circle cx={43.5} cy={10} r={3.3} fill="none" stroke="#8a8a8a" strokeWidth={1.3} />}
              {k === 1 && <circle cx={43.5} cy={10} r={5.2} fill="#fff" stroke="#000" strokeWidth={2.3} />}
              {k === 2 && <circle cx={43.5} cy={10} r={7.2} fill="#000" />}
            </svg>
            <span style={{ lineHeight: '26px' }}>{e.value}</span>
          </div>
        );
      })}
    </div>
  );
};

type PanelCfg = {
  box: { left: number; top: number; width: number; height: number };
  plot: { left: number; top: number; right: number; bottom: number };
  yDomain: [number, number];
  yMajor: number[];
  yMinor: number[];
  showX: boolean;
  yTitle: string;
  yTitlePos: [number, number];
  xTitlePos?: [number, number];
  points: Pt[];
  limits: { seg: Pt[]; dash?: boolean; w: number }[];
  prev?: Pt[];
  curr?: Pt[];
  notes: Note[];
  legend?: boolean;
};

const Panel = ({ c }: { c: PanelCfg }) => {
  const YW = 60;
  const xh = c.box.height - c.plot.bottom;
  const margin = { top: c.plot.top, right: c.box.width - c.plot.right, bottom: 0, left: c.plot.left - YW };
  const yTitle = () => (
    <text
      x={c.yTitlePos[0]}
      y={c.yTitlePos[1]}
      transform={`rotate(-90 ${c.yTitlePos[0]} ${c.yTitlePos[1]})`}
      textAnchor="middle"
      dy="0.36em"
      fontSize={26}
      fontWeight="bold"
      fill="#000"
    >
      {c.yTitle}
    </text>
  );
  const xTitle = () =>
    c.xTitlePos ? (
      <text x={c.xTitlePos[0]} y={c.xTitlePos[1]} textAnchor="middle" fontSize={26} fontWeight="bold" fill="#000">
        Maximum Takeoff Gross Weight, 1000lb
      </text>
    ) : (
      <g />
    );
  const xTick = (p: any) =>
    c.showX && xLabeled.includes(p.payload.value) ? (
      <text x={p.x} y={c.plot.bottom + 18} dy="0.71em" textAnchor="middle" fontSize={24} fill="#000">
        {p.payload.value}
      </text>
    ) : (
      <g />
    );
  const yTick = (p: any) => {
    const v = p.payload.value;
    return (
      <g>
        <line x1={c.plot.left} x2={c.plot.left + 5} y1={p.y} y2={p.y} stroke="#000" strokeWidth={1.2} />
        {c.yMajor.includes(v) && (
          <text x={c.plot.left - 20} y={p.y} dy="0.35em" textAnchor="end" fontSize={24} fill="#000">
            {v}
          </text>
        )}
      </g>
    );
  };
  return (
    <div style={{ position: 'absolute', left: c.box.left, top: c.box.top }}>
      <ScatterChart width={c.box.width} height={c.box.height} margin={margin}>
        <CartesianGrid horizontal={false} stroke="#9f9f9f" strokeWidth={1.3} />
        <CartesianGrid vertical={false} horizontalValues={c.yMajor} stroke="#c4c4c4" strokeWidth={2} />
        <XAxis
          type="number"
          dataKey="x"
          scale="log"
          domain={[100, 200]}
          allowDataOverflow
          ticks={xTicks}
          interval={0}
          height={xh}
          tickLine={false}
          axisLine={false}
          tick={xTick}
          label={{ content: xTitle }}
        />
        <YAxis
          type="number"
          dataKey="y"
          domain={c.yDomain}
          allowDataOverflow
          ticks={c.yMinor}
          interval={0}
          width={YW}
          tickLine={false}
          axisLine={false}
          tick={yTick}
          label={{ content: yTitle }}
        />
        {c.limits.map((l, i) => (
          <ReferenceLine
            key={i}
            segment={l.seg}
            stroke="#000"
            strokeWidth={l.w}
            strokeDasharray={l.dash ? '20 11' : undefined}
            ifOverflow="visible"
          />
        ))}
        <ReferenceArea x1={100} x2={200} y1={c.yDomain[0]} y2={c.yDomain[1]} fill="none" stroke="#000" strokeWidth={2.5} ifOverflow="visible" />
        <Scatter name={NAME_DATA} data={c.points} shape={Dot} fill="#8a8a8a" isAnimationActive={false} />
        {c.prev && <Scatter name={NAME_PREV} data={c.prev} shape={OpenMark} fill="#fff" isAnimationActive={false} />}
        {c.curr && <Scatter name={NAME_CURR} data={c.curr} shape={FilledMark} fill="#000" isAnimationActive={false} />}
        <Scatter name="notes" data={c.notes} shape={NoteShape} legendType="none" isAnimationActive={false} />
        {c.legend && (
          <Legend
            content={LegendBox}
            layout="vertical"
            align="center"
            verticalAlign="middle"
            wrapperStyle={{ left: 115, top: 27, width: 515, height: 86 }}
          />
        )}
      </ScatterChart>
    </div>
  );
};

const panels: PanelCfg[] = [
  {
    box: { left: 0, top: 0, width: 655, height: 440 },
    plot: { left: 104, top: 20, right: 637, bottom: 410 },
    yDomain: [85, 105], yMajor: latMajor, yMinor: latMinor, showX: false,
    yTitle: 'Lateral EPNL, EPNdB', yTitlePos: [25, 218],
    points: toPts(latCols), limits: [{ seg: latLimit, w: 4.6 }], prev: latPrev, curr: latCurr, notes: latNotes, legend: true,
  },
  {
    box: { left: 655, top: 0, width: 655, height: 440 },
    plot: { left: 93, top: 20, right: 625, bottom: 410 },
    yDomain: [85, 105], yMajor: latMajor, yMinor: latMinor, showX: false,
    yTitle: 'Approach EPNL, EPNdB', yTitlePos: [15, 224],
    points: toPts(appCols), limits: [{ seg: appLimit, w: 4.6 }], curr: appCurr, notes: appNotes,
  },
  {
    box: { left: 0, top: 420, width: 700, height: 485 },
    plot: { left: 104, top: 22, right: 637, bottom: 410 },
    yDomain: [75, 100], yMajor: flyMajor, yMinor: flyMinor, showX: true,
    yTitle: 'Flyover EPNL, EPNdB', yTitlePos: [25, 221.5], xTitlePos: [372, 471.5],
    points: toPts(flyCols), limits: [{ seg: flyLimit, w: 4.6 }], prev: flyPrev, curr: flyCurr, notes: flyNotes,
  },
  {
    box: { left: 655, top: 420, width: 655, height: 485 },
    plot: { left: 93, top: 22, right: 625, bottom: 410 },
    yDomain: [260, 290], yMajor: cumMajor, yMinor: cumMinor, showX: true,
    yTitle: 'Cumulative EPNL, EPNdB', yTitlePos: [14, 222.5], xTitlePos: [363.5, 471.5],
    points: toPts(cumCols),
    limits: [{ seg: cumCh3, w: 4 }, { seg: cumCh4, w: 4 }, { seg: cumCh14, w: 4 }, { seg: cumSsl1, dash: true, w: 4 }],
    prev: cumPrev, curr: cumCurr, notes: cumNotes,
  },
];

export default function App() {
  return (
    <div style={{ position: 'absolute', left: 0, top: 0, width: 1310, height: 899, overflow: 'hidden', background: '#fff', fontFamily: FONT, color: '#000' }}>
      {panels.map((c, i) => (
        <Panel key={i} c={c} />
      ))}
    </div>
  );
}
